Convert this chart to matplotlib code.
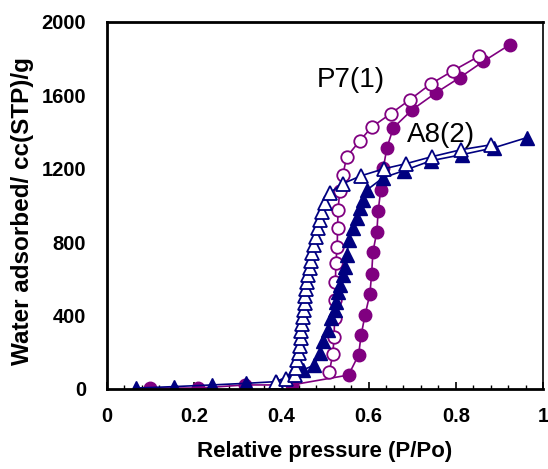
import numpy as np
import matplotlib
matplotlib.use("Agg")
import matplotlib.pyplot as plt
from matplotlib.ticker import MultipleLocator, FuncFormatter

plt.rcParams['font.family'] = ['Liberation Sans', 'DejaVu Sans']

# P7 - adsorption (filled circles)
p7_ads_x = [0.100, 0.209, 0.317, 0.424, 0.554, 0.577, 0.583, 0.592, 0.603, 0.607, 0.610,
            0.619, 0.622, 0.628, 0.634, 0.642, 0.657, 0.700, 0.755, 0.809, 0.863, 0.924]
p7_ads_y = [5, 5, 22, 22, 76, 185, 295, 404, 518, 628, 748,
            857, 972, 1086, 1206, 1315, 1424, 1522, 1615, 1697, 1785, 1877]

# P7 - desorption (open circles)
p7_des_x = [0.510, 0.518, 0.521, 0.522, 0.523, 0.524, 0.525, 0.528, 0.529, 0.530,
            0.534, 0.541, 0.550, 0.580, 0.607, 0.651, 0.695, 0.742, 0.794, 0.852]
p7_des_y = [93, 191, 284, 387, 486, 584, 688, 775, 879, 977,
            1080, 1168, 1266, 1353, 1427, 1501, 1577, 1662, 1735, 1812]

# A8 - adsorption (filled triangles)
a8_ads_x = [0.067, 0.154, 0.240, 0.320, 0.388, 0.425, 0.450, 0.476, 0.488, 0.495, 0.507,
            0.514, 0.522, 0.526, 0.530, 0.534, 0.541, 0.545, 0.550, 0.555, 0.564, 0.573,
            0.580, 0.588, 0.597, 0.633, 0.681, 0.743, 0.814, 0.888, 0.963]
a8_ads_y = [5, 13, 22, 31, 40, 80, 104, 131, 196, 262, 322,
            387, 431, 475, 529, 568, 622, 666, 731, 813, 879, 933,
            988, 1031, 1086, 1151, 1190, 1244, 1277, 1315, 1370]

# A8 - desorption (open triangles)
a8_des_x = [0.388, 0.410, 0.4305, 0.434, 0.4365, 0.440, 0.442, 0.444, 0.4456, 0.448, 0.4495,
            0.452, 0.4534, 0.455, 0.457, 0.4594, 0.461, 0.465, 0.467, 0.470, 0.475, 0.479,
            0.484, 0.4885, 0.493, 0.500, 0.5115, 0.541, 0.583, 0.635, 0.686, 0.745,
            0.812, 0.881]
a8_des_y = [40, 55, 76, 115, 158, 196, 235, 278, 317, 355, 393,
            431, 469, 508, 546, 584, 622, 660, 698, 742, 786, 829,
            879, 922, 966, 1015, 1070, 1119, 1162, 1200, 1228, 1266,
            1304, 1331]

purple = '#800080'
navy = '#000080'

fig = plt.figure(figsize=(5.48, 4.69), dpi=100)
ax = fig.add_axes([0.195, 0.1706, 0.796, 0.7825])

ax.plot(p7_ads_x, p7_ads_y, color=purple, lw=1.2, marker='o', ms=9,
        mfc=purple, mec=purple)
ax.plot(p7_des_x, p7_des_y, color=purple, lw=1.2, marker='o', ms=9,
        mfc='white', mec=purple, mew=1.3)
ax.plot(a8_ads_x, a8_ads_y, color=navy, lw=1.2, marker='^', ms=9.5,
        mfc=navy, mec=navy)
ax.plot(a8_des_x, a8_des_y, color=navy, lw=1.2, marker='^', ms=9.5,
        mfc='white', mec=navy, mew=1.3)

ax.text(0.482, 1648, 'P7(1)', fontsize=20, ha='left', va='baseline')
ax.text(0.688, 1348, 'A8(2)', fontsize=20, ha='left', va='baseline')

ax.set_xlim(0, 1)
ax.set_ylim(0, 2000)
ax.xaxis.set_major_locator(MultipleLocator(0.2))
ax.xaxis.set_minor_locator(MultipleLocator(0.04))
ax.yaxis.set_major_locator(MultipleLocator(400))
ax.xaxis.set_major_formatter(FuncFormatter(lambda v, p: '%g' % round(v, 2)))

ax.tick_params(axis='x', which='major', direction='in', length=5, width=1.2,
               labelsize=14.5, pad=13)
ax.tick_params(axis='x', which='minor', direction='in', length=3, width=1)
ax.tick_params(axis='y', which='major', length=0, labelsize=14.5, pad=15)
for lab in ax.get_xticklabels() + ax.get_yticklabels():
    lab.set_fontweight('bold')

for side in ['left', 'bottom', 'top']:
    ax.spines[side].set_linewidth(2)
ax.spines['right'].set_linewidth(1.2)

ax.set_xlabel('Relative pressure (P/Po)', fontsize=16, fontweight='bold', labelpad=11)
ax.set_ylabel('Water adsorbed/ cc(STP)/g', fontsize=17.5, fontweight='bold')
ax.yaxis.set_label_coords(-0.168, 0.484)

fig.savefig('out.png', dpi=100)
